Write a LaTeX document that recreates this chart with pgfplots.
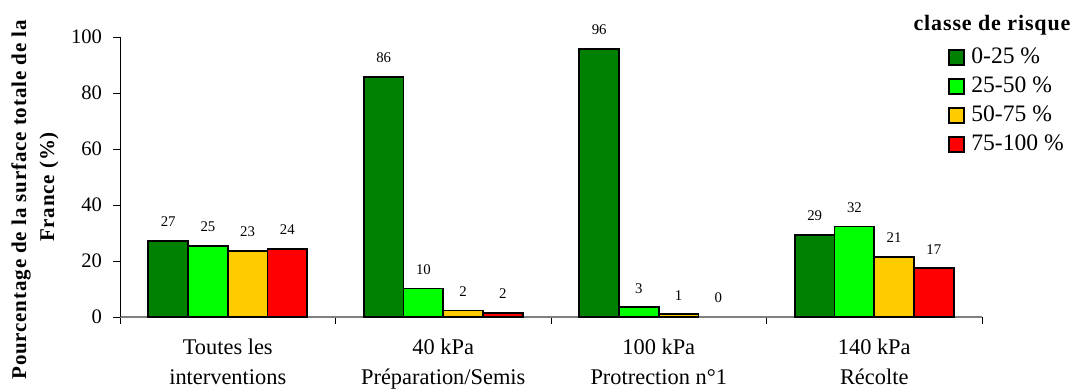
\documentclass[border=0pt]{standalone}
\usepackage{fontspec}
\setmainfont{Liberation Serif}
\newfontfamily\lsfont[LetterSpace=4]{Liberation Serif}
\usepackage{pgfplots}
\pgfplotsset{compat=1.18}
\definecolor{dgreen}{RGB}{0,128,0}
\definecolor{lgreen}{RGB}{0,255,0}
\definecolor{yel}{RGB}{255,204,0}
\definecolor{rred}{RGB}{255,0,0}
\begin{document}
\begin{tikzpicture}
\useasboundingbox (0,0) rectangle (540.5pt,194pt);
\begin{axis}[
  at={(60pt,35.5pt)}, anchor=south west,
  scale only axis, width=431pt, height=140pt,
  xmin=0, xmax=4, ymin=0, ymax=100,
  axis x line*=bottom, axis y line*=left,
  x axis line style={draw=gray, line width=0.6pt},
  y axis line style={draw=black, line width=0.5pt},
  ytick={0,20,40,60,80,100},
  xtick={0.5,1.5,2.5,3.5},
  xticklabels={{Toutes les\\interventions},{40 kPa\\Préparation/Semis},{100 kPa\\Protrection n°1},{140 kPa\\Récolte}},
  minor xtick={0,1,2,3,4},
  tick align=outside,
  major tick length=3.5pt, minor tick length=3.5pt,
  xtick style={draw=none},
  minor x tick style={draw=black, line width=0.5pt},
  ytick style={draw=black, line width=0.5pt},
  /pgf/number format/assume math mode=true,
  yticklabel style={font=\fontsize{10.3}{12}\selectfont, xshift=-2pt},
  xticklabel style={font=\fontsize{11.2}{15}\selectfont, align=center, anchor=north, yshift=-4pt},
  ybar, bar width=19.85pt,
  clip=false,
  point meta=explicit symbolic,
  nodes near coords,
  nodes near coords style={font=\fontsize{7.4}{8}\selectfont, anchor=center, yshift=9.5pt},
  every axis plot/.append style={draw=black, line width=0.9pt},
  legend image code/.code={\draw[#1, line width=0.75pt] (0pt,-3.75pt) rectangle (7.5pt,3.75pt);},
  legend style={at={(axis description cs:0.9606,1)}, anchor=north west, yshift=-5pt,
    draw=none, fill=none, inner sep=0pt, row sep=4.2pt,
    font=\fontsize{11.8}{13}\selectfont,
    nodes={inner sep=0pt, text height=7.8pt, text depth=2.5pt},
    /tikz/every odd column/.append style={column sep=3.2pt}},
  legend cell align=left,
]
\addplot[fill=dgreen, bar shift=-29.775pt] table[meta=l] {
x y l
0.5 27.2 27
1.5 85.8 86
2.5 95.7 96
3.5 29.3 29
};
\addplot[fill=lgreen, bar shift=-9.925pt] table[meta=l] {
x y l
0.5 25.5 25
1.5 10.2 10
2.5 3.5 3
3.5 32.3 32
};
\addplot[fill=yel, bar shift=9.925pt] table[meta=l] {
x y l
0.5 23.6 23
1.5 2.3 2
2.5 1.0 1
3.5 21.4 21
};
\addplot[fill=rred, bar shift=29.775pt] table[meta=l] {
x y l
0.5 24.3 24
1.5 1.5 2
3.5 17.4 17
};
\addplot[draw=none, fill=none, bar shift=29.775pt, forget plot] table[meta=l] {
x y l
2.5 0 0
};
\legend{0-25 \%,25-50 \%,50-75 \%,75-100 \%}
\end{axis}
\node[font=\lsfont\bfseries\fontsize{11}{13}\selectfont, anchor=center] at (496pt,181.5pt) {classe de risque};
\node[rotate=90, align=center, anchor=center, font=\lsfont\bfseries\fontsize{10.5}{14}\selectfont] at (17.5pt,100.5pt) {Pourcentage de la surface totale de la\hspace*{13pt}\\France (\%)};
\end{tikzpicture}
\end{document}
